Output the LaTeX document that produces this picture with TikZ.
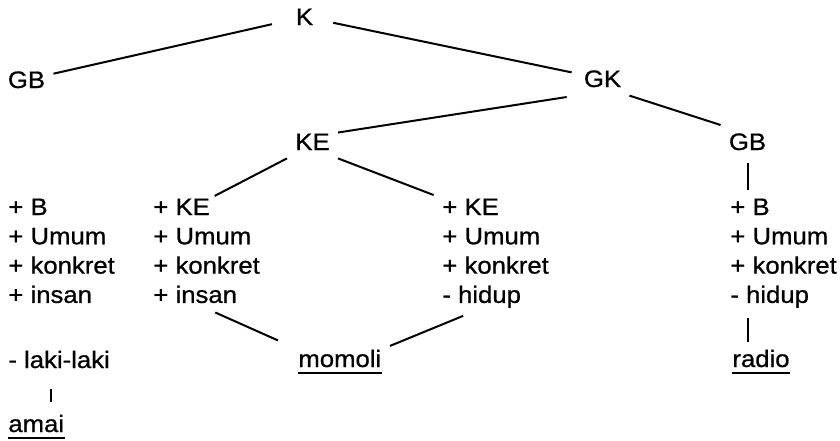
\documentclass[tikz,border=0pt]{standalone}
\usepackage{fontspec}
\setmainfont{Liberation Sans}[FakeStretch=1.08, FakeBold=0.8]

\newcommand{\treefont}{\fontsize{11.9}{14}\selectfont}

\begin{document}
\begin{tikzpicture}[x=0.5pt, y=-0.5pt,
		cat/.style={font=\treefont, inner sep=4pt, anchor=base},
		feat/.style={font=\treefont, inner sep=0pt, anchor=base west},
		link/.style={line width=1pt},
		uline/.style={line width=1.2pt}]
		\useasboundingbox (0,0) rectangle (840,440);

		% Category labels
		\node[cat] (K) at (304.5,25) {K};
		\node[cat] (GB1) at (26.5,88) {GB};
		\node[cat] (GK) at (602.5,87) {GK};
		\node[cat] (KE) at (312.5,150) {KE};
		\node[cat] (GB2) at (747.5,150) {GB};

		% Feature columns
		\foreach \t [count=\i] in {+ B, + Umum, + konkret, + insan}
			\node[feat] (fa\i) at (8, {185.7+29.3*\i}) {\t};
		\foreach \t [count=\i] in {+ KE, + Umum, + konkret, + insan}
			\node[feat] (fb\i) at (153, {185.7+29.3*\i}) {\t};
		\foreach \t [count=\i] in {+ KE, + Umum, + konkret, - hidup}
			\node[feat] (fc\i) at (442, {185.7+29.3*\i}) {\t};
		\foreach \t [count=\i] in {+ B, + Umum, + konkret, - hidup}
			\node[feat] (fd\i) at (730, {185.7+29.3*\i}) {\t};

		% Words
		\node[feat] (laki) at (8,368) {- laki-laki};
		\node[feat] (amai) at (8,432) {amai};
		\node[feat] (momoli) at (298,367) {momoli};
		\node[feat] (radio) at (732,367) {radio};

		% Branches
		\draw[link, shorten <=8pt] (K) -- (GB1);
		\draw[link, shorten <=6pt, shorten >=2pt] (K) -- (GK);
		\draw[link, shorten <=4.5pt] (GK.south west) -- (KE.20);
		\draw[link] (GK.south east) -- (GB2.north west);
		\draw[link, shorten >=2.5pt] (KE.south west) -- (fb1.north east);
		\draw[link, shorten >=4.5pt] (KE.south east) -- (fc1.north west);
		\draw[link, shorten <=2pt, shorten >=4pt] (GB2.south) -- (GB2.south |- fd1.north);
		\draw[link, shorten <=11pt, shorten >=11pt] (fb4.south) -- (momoli.north west);
		\draw[link, shorten <=10pt, shorten >=4.5pt] (fc4.south) -- (momoli.north east);
		\draw[link, shorten <=5pt, shorten >=3.5pt] (fd4.south -| GB2) -- (radio.north -| GB2);
		\draw[link, shorten <=10pt, shorten >=6pt] ([xshift=-4pt]laki.south) -- ([xshift=-4pt]laki.south |- amai.north);

		% Underlined words
		\foreach \w in {amai, momoli, radio}
			\draw[uline] ([yshift=-3pt]\w.base west) -- ([yshift=-3pt]\w.base east);
	\end{tikzpicture}
\end{document}
